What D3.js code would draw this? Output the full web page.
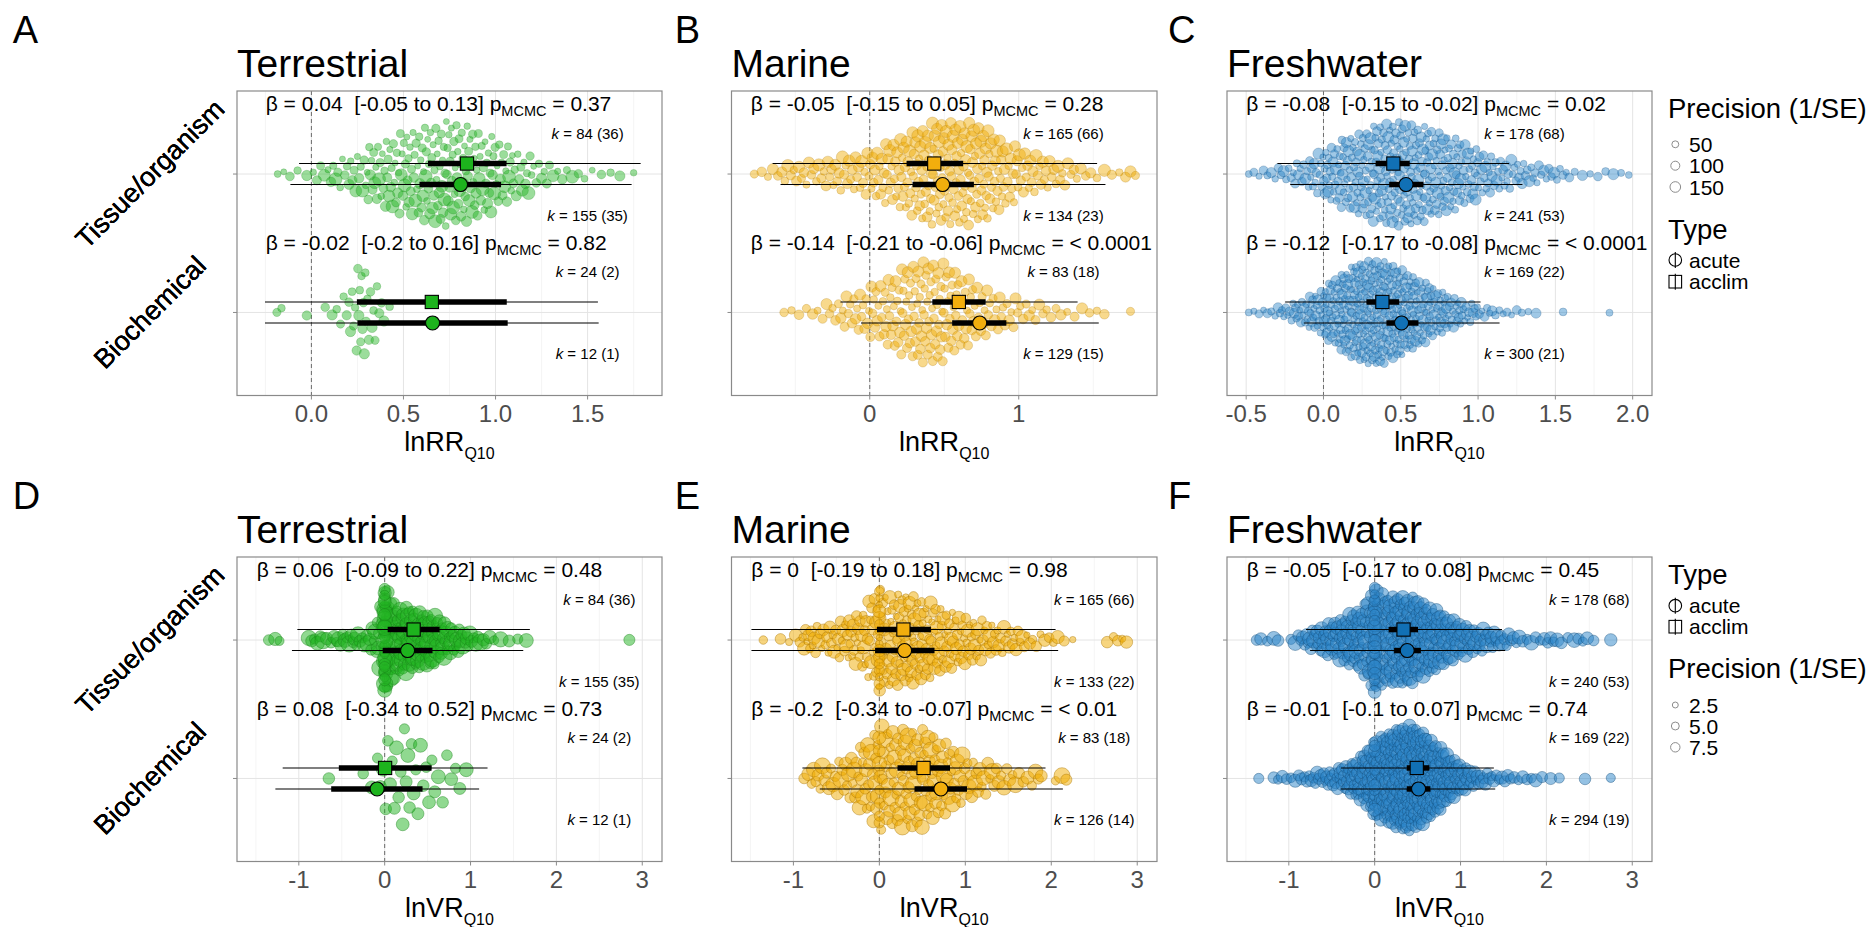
<!DOCTYPE html>
<html>
<head>
<meta charset="utf-8">
<script src="https://cdn.jsdelivr.net/npm/d3@7"></script>
<style>
  html, body { margin: 0; padding: 0; background: #fff; }
  svg { display: block; font-family: "Liberation Sans", Arial, Helvetica, sans-serif; }
</style>
</head>
<body>
<svg id="fig" width="1875" height="927"></svg>
<script>
// ---------------------------------------------------------------------------
// Data
// ---------------------------------------------------------------------------
const realms = ["Terrestrial", "Marine", "Freshwater"];
const categories = ["Tissue/organism", "Biochemical"];
const types = ["acclim", "acute"];
const panelLetters = ["A", "B", "C", "D", "E", "F"];
const metricNames = ["lnRR", "lnVR"];

// x-axis limits, ticks and tick labels per panel (A..F)
const xDomains = [[-0.404, 1.904], [-0.928, 1.928], [-0.624, 2.125], [-1.72, 3.23], [-1.72, 3.23], [-1.72, 3.23]];
const xTicks = [[0, 0.5, 1, 1.5], [0, 1], [-0.5, 0, 0.5, 1, 1.5, 2], [-1, 0, 1, 2, 3], [-1, 0, 1, 2, 3], [-1, 0, 1, 2, 3]];
const xTickLabels = [["0.0", "0.5", "1.0", "1.5"], ["0", "1"], ["-0.5", "0.0", "0.5", "1.0", "1.5", "2.0"],
  ["-1", "0", "1", "2", "3"], ["-1", "0", "1", "2", "3"], ["-1", "0", "1", "2", "3"]];
const xMinorTicks = [[-0.25, 0.25, 0.75, 1.25, 1.75], [-0.5, 0.5, 1.5], [-0.25, 0.25, 0.75, 1.25, 1.75],
  [-1.5, -0.5, 0.5, 1.5, 2.5], [-1.5, -0.5, 0.5, 1.5, 2.5], [-1.5, -0.5, 0.5, 1.5, 2.5]];

// Model estimates: [estimate, CI low, CI high, PI low, PI high]; [tissue/organism, biochemical]
const acclimEst = [
  [[0.845, 0.633, 1.06, -0.067, 1.788], [0.654, 0.247, 1.061, -0.252, 1.556]],
  [[0.433, 0.247, 0.627, -0.652, 1.526], [0.598, 0.42, 0.778, -0.197, 1.395]],
  [[0.452, 0.337, 0.558, -0.298, 1.201], [0.381, 0.278, 0.49, -0.248, 1.016]],
  [[0.337, 0.035, 0.64, -1.017, 1.691], [0.005, -0.534, 0.546, -1.188, 1.198]],
  [[0.28, -0.028, 0.60, -1.488, 2.05], [0.514, 0.211, 0.822, -0.895, 1.933]],
  [[0.336, 0.162, 0.505, -0.80, 1.483], [0.49, 0.373, 0.637, -0.393, 1.388]]
];
const acuteEst = [
  [[0.81, 0.587, 1.03, -0.114, 1.739], [0.658, 0.25, 1.066, -0.252, 1.56]],
  [[0.489, 0.287, 0.699, -0.599, 1.582], [0.738, 0.553, 0.917, -0.059, 1.537]],
  [[0.534, 0.425, 0.647, -0.215, 1.287], [0.505, 0.407, 0.614, -0.127, 1.139]],
  [[0.267, -0.023, 0.557, -1.08, 1.614], [-0.088, -0.623, 0.441, -1.273, 1.10]],
  [[0.294, -0.05, 0.642, -1.488, 2.08], [0.716, 0.409, 1.02, -0.693, 2.135]],
  [[0.379, 0.226, 0.538, -0.752, 1.52], [0.511, 0.373, 0.649, -0.393, 1.404]]
];

// Type contrast (beta [low to high]) and p_MCMC per panel
const betaTissue = [[0.04, -0.05, 0.13], [-0.05, -0.15, 0.05], [-0.08, -0.15, -0.02], [0.06, -0.09, 0.22], [0, -0.19, 0.18], [-0.05, -0.17, 0.08]];
const pTissue = ["0.37", "0.28", "0.02", "0.48", "0.98", "0.45"];
const betaBiochem = [[-0.02, -0.2, 0.16], [-0.14, -0.21, -0.06], [-0.12, -0.17, -0.08], [0.08, -0.34, 0.52], [-0.2, -0.34, -0.07], [-0.01, -0.1, 0.07]];
const pBiochem = ["0.82", "< 0.0001", "< 0.0001", "0.73", "< 0.01", "0.74"];

// Effect sizes k (number of studies)
const kTissueAcclim = [[84, 36], [165, 66], [178, 68], [84, 36], [165, 66], [178, 68]];
const kTissueAcute = [[155, 35], [134, 23], [241, 53], [155, 35], [133, 22], [240, 53]];
const kBiochemAcclim = [[24, 2], [83, 18], [169, 22], [24, 2], [83, 18], [169, 22]];
const kBiochemAcute = [[12, 1], [129, 15], [300, 21], [12, 1], [126, 14], [294, 19]];

// lnRR_Q10 effect sizes, binned: first bin start, bin width, counts per bin
const rrTerrTissue = { start: -0.2, width: 0.1, counts: [3, 2, 5, 8, 11, 17, 21, 24, 27, 29, 27, 22, 17, 12, 7, 4, 3, 2, 2, 1] };
const rrTerrBiochem = { start: -0.2, width: 0.05, counts: [2, 0, 0, 1, 0, 1, 2, 3, 6, 10, 6, 4, 1] };
const rrMarTissue = { start: -0.8, width: 0.1, counts: [2, 3, 5, 6, 6, 8, 9, 10, 13, 16, 20, 24, 26, 26, 26, 25, 20, 14, 11, 9, 7, 5, 3, 2, 2, 3] };
const rrMarBiochem = { start: -0.6, width: 0.1, counts: [2, 2, 3, 5, 8, 10, 13, 17, 21, 24, 24, 20, 16, 12, 9, 7, 5, 4, 3, 2, 2, 2, 0, 1] };
const rrFreshTissue = { start: -0.5, width: 0.1, counts: [3, 4, 6, 9, 14, 22, 28, 32, 38, 40, 40, 36, 32, 28, 22, 16, 12, 10, 8, 6, 5, 2, 2, 2, 2] };
const rrFreshBiochem = { start: -0.5, width: 0.1, counts: [3, 4, 8, 14, 22, 36, 50, 60, 62, 56, 46, 36, 26, 18, 11, 6, 4, 3, 2, 0, 1, 0, 0, 1] };

// lnVR_Q10 effect sizes, binned, plus ties at exactly zero
const vrTerrTissue = { start: -1.4, width: 0.1, zeros: 28,
  counts: [1, 2, 0, 0, 0, 3, 3, 2, 4, 4, 5, 4, 6, 10, 22, 22, 22, 20, 18, 18, 14, 10, 8, 6, 4, 3, 2, 1, 1, 1, 1, 0, 0, 0, 0, 0, 0, 0, 0, 0, 0, 0, 1] };
const vrTerrBiochem = { start: -0.7, width: 0.1, zeros: 0, counts: [1, 0, 0, 0, 1, 1, 3, 4, 4, 5, 4, 3, 3, 2, 2, 2, 1] };
const vrMarTissue = { start: -1.5, width: 0.1, zeros: 15,
  counts: [0, 1, 0, 1, 1, 2, 6, 6, 5, 6, 7, 9, 10, 12, 13, 14, 16, 18, 18, 17, 15, 14, 12, 11, 10, 9, 8, 7, 6, 5, 5, 4, 3, 2, 2, 2, 1, 1, 0, 0, 0, 1, 2, 2] };
const vrMarBiochem = { start: -0.9, width: 0.1, zeros: 6,
  counts: [2, 4, 4, 4, 5, 6, 8, 10, 11, 12, 13, 14, 14, 14, 13, 12, 10, 9, 7, 6, 5, 4, 4, 3, 3, 2, 2, 3, 0, 1, 2] };
const vrFreshTissue = { start: -1.5, width: 0.1, zeros: 20,
  counts: [0, 2, 1, 2, 0, 2, 4, 6, 8, 10, 12, 15, 17, 19, 21, 23, 26, 28, 28, 27, 24, 21, 18, 15, 12, 10, 8, 7, 6, 5, 4, 3, 2, 2, 2, 3, 2, 1, 2, 2, 1, 0, 1] };
const vrFreshBiochem = { start: -1.4, width: 0.1, zeros: 6,
  counts: [1, 0, 2, 2, 2, 3, 4, 5, 6, 8, 10, 14, 18, 24, 30, 36, 40, 42, 42, 38, 32, 26, 20, 14, 10, 7, 5, 4, 3, 3, 2, 2, 2, 1, 1, 1, 0, 0, 1, 0, 0, 1] };

// Precision (1/SE) of the effect sizes, in the order they appear along x
const precRRTerrTissue = [50, 35, 95, 65, 140, 45, 105, 75, 200, 40, 120, 60, 240, 85];
const precRRTerrBiochem = [80, 65, 110, 90, 140, 70];
const precRRMarTissue = [80, 120, 60, 170, 95, 140, 70, 210, 110, 65, 130, 180];
const precRRMarBiochem = [90, 65, 120, 80, 150, 55, 105, 170];
const precRRFreshTissue = [50, 80, 40, 100, 60, 140, 45, 90, 70, 170, 55];
const precRRFreshBiochem = [55, 40, 80, 35, 100, 60, 45, 130, 70];
const precVRTerrTissue = [10, 16, 7, 22, 13, 9, 18, 11, 26, 14];
const precVRTerrBiochem = [12, 10, 15, 9, 13, 18];
const precVRMarTissue = [6, 10, 4, 14, 8, 5, 16, 9, 3, 12];
const precVRMarBiochem = [10, 16, 7, 20, 9, 13, 6, 24, 11];
const precVRFreshTissue = [10, 14, 8, 18, 12, 9, 20, 11, 7, 15];
const precVRFreshBiochem = [9, 12, 7, 14, 10, 8, 16, 11, 13];

// Legend breaks
const precisionBreaksRR = [50, 100, 150];
const precisionLabelsRR = ["50", "100", "150"];
const precisionBreaksVR = [2.5, 5, 7.5];
const precisionLabelsVR = ["2.5", "5.0", "7.5"];

const swarmHist = [
  [rrTerrTissue, rrTerrBiochem], [rrMarTissue, rrMarBiochem], [rrFreshTissue, rrFreshBiochem],
  [vrTerrTissue, vrTerrBiochem], [vrMarTissue, vrMarBiochem], [vrFreshTissue, vrFreshBiochem]
];
const swarmPrecision = [
  [precRRTerrTissue, precRRTerrBiochem], [precRRMarTissue, precRRMarBiochem], [precRRFreshTissue, precRRFreshBiochem],
  [precVRTerrTissue, precVRTerrBiochem], [precVRMarTissue, precVRMarBiochem], [precVRFreshTissue, precVRFreshBiochem]
];

// ---------------------------------------------------------------------------
// Layout and style
// ---------------------------------------------------------------------------
const W = 1875, H = 927;
const colLeft = [237, 731.5, 1227];
const colRight = [662, 1157, 1652];
const rowTop = [91, 557];
const boxH = 304.5;
const kLabelX = [1.5, 1.3, 1.3, 2.5, 2.5, 2.5];          // k labels centred at this x value
const betaLeftPad = [28.7, 19.3, 19.3, 19.7, 19.8, 19.7];
const swarmHalfWidth = 53;

const markerFill = ["#1db31d", "#f2ae0d", "#1170b5"];
const pointFill = ["#22b422", "#f0ab00", "#2a84c8"];
const pointStroke = ["#178217", "#a87400", "#134c7a"];

const sizeRR = d3.scaleSqrt().domain([0, 200]).range([0.9, 6.0]);
const sizeVR = d3.scaleSqrt().domain([0, 12]).range([0.6, 5.8]);

const svg = d3.select("#fig");
svg.append("rect").attr("width", W).attr("height", H).attr("fill", "#fff");

// ---------------------------------------------------------------------------
// Quasirandom (van der Corput) swarm layout
// ---------------------------------------------------------------------------
function vanDerCorput(n) {
  const out = [];
  for (let i = 1; i <= n; i++) {
    let v = 0, denom = 1, k = i;
    while (k > 0) { denom *= 2; v += (k % 2) / denom; k = Math.floor(k / 2); }
    out.push(v);
  }
  return out;
}
function bwNrd0(xs) {
  const s = xs.slice().sort(d3.ascending);
  const sd = d3.deviation(s);
  const iqr = d3.quantileSorted(s, 0.75) - d3.quantileSorted(s, 0.25);
  let lo = Math.min(sd, iqr / 1.34);
  if (!(lo > 0)) lo = sd || 1;
  return 0.9 * lo * Math.pow(s.length, -0.2);
}
function quasirandomOffsets(xs, adjust) {
  const bw = bwNrd0(xs) * adjust;
  const dens = t => d3.sum(xs, v => Math.exp(-0.5 * ((t - v) / bw) ** 2));
  const [mn, mx] = d3.extent(xs);
  let maxD = 0;
  for (let i = 0; i <= 512; i++) {
    const t = mn - 3 * bw + (mx - mn + 6 * bw) * i / 512;
    maxD = Math.max(maxD, dens(t));
  }
  xs.forEach(v => { maxD = Math.max(maxD, dens(v)); });
  const order = d3.range(xs.length).sort((a, b) => xs[a] - xs[b] || a - b);
  const seq = vanDerCorput(xs.length);
  const offs = new Array(xs.length);
  order.forEach((idx, r) => { offs[idx] = (seq[r] - 0.5) * 2 * dens(xs[idx]) / maxD; });
  return offs;
}
function expandHistogram(h) {
  const xs = [];
  h.counts.forEach((c, i) => {
    for (let j = 0; j < c; j++) xs.push(h.start + h.width * (i + (j + 0.5) / c));
  });
  for (let j = 0; j < (h.zeros || 0); j++) xs.push(0);
  return xs;
}

// ---------------------------------------------------------------------------
// Panels
// ---------------------------------------------------------------------------
function preserve(sel) { return sel.attr("xml:space", "preserve").style("white-space", "pre"); }

function drawPanel(p) {
  const row = Math.floor(p / 3), col = p % 3;
  const top = rowTop[row], bottom = top + boxH;
  const left = colLeft[col], right = colRight[col];
  const x = d3.scaleLinear().domain(xDomains[p]).range([left, right]);
  const y = d3.scalePoint().domain(categories).range([top, bottom]).padding(0.6);
  const dodge = d3.scalePoint().domain(types).range([-10.5, 10.5]);
  const size = row === 0 ? sizeRR : sizeVR;
  const g = svg.append("g");

  // grid
  g.selectAll(null).data(xMinorTicks[p]).join("line")
    .attr("x1", d => x(d)).attr("x2", d => x(d)).attr("y1", top).attr("y2", bottom)
    .attr("stroke", "#f1f1f1").attr("stroke-width", 0.8);
  g.selectAll(null).data(xTicks[p]).join("line")
    .attr("x1", d => x(d)).attr("x2", d => x(d)).attr("y1", top).attr("y2", bottom)
    .attr("stroke", "#e4e4e4").attr("stroke-width", 1);
  g.selectAll(null).data(categories).join("line")
    .attr("x1", left).attr("x2", right).attr("y1", d => y(d)).attr("y2", d => y(d))
    .attr("stroke", "#e4e4e4").attr("stroke-width", 1);

  // zero reference line
  g.append("line").attr("x1", x(0)).attr("x2", x(0)).attr("y1", top).attr("y2", bottom)
    .attr("stroke", "#6b6b6b").attr("stroke-width", 1).attr("stroke-dasharray", "4,3");

  // individual effect sizes
  const realm = col;
  categories.forEach((cat, ci) => {
    const xs = expandHistogram(swarmHist[p][ci]);
    const prec = swarmPrecision[p][ci];
    const offs = quasirandomOffsets(xs, 0.5);
    const pts = xs.map((v, i) => ({ v, off: offs[i], w: prec[i % prec.length] }));
    g.append("g").selectAll("circle").data(pts).join("circle")
      .attr("cx", d => x(d.v))
      .attr("cy", d => y(cat) + d.off * swarmHalfWidth)
      .attr("r", d => size(d.w))
      .attr("fill", pointFill[realm]).attr("fill-opacity", row === 0 ? 0.45 : 0.5)
      .attr("stroke", pointStroke[realm]).attr("stroke-opacity", row === 0 ? 0.35 : 0.6)
      .attr("stroke-width", 0.7);
  });

  // model estimates: prediction interval, confidence interval, mean
  const est = [];
  categories.forEach((cat, ci) => {
    est.push({ cat, type: "acclim", e: acclimEst[p][ci] });
    est.push({ cat, type: "acute", e: acuteEst[p][ci] });
  });
  const yy = d => y(d.cat) + dodge(d.type);
  g.selectAll(null).data(est).join("line")
    .attr("x1", d => x(d.e[3])).attr("x2", d => x(d.e[4])).attr("y1", yy).attr("y2", yy)
    .attr("stroke", "#000").attr("stroke-width", 1.1);
  g.selectAll(null).data(est).join("line")
    .attr("x1", d => x(d.e[1])).attr("x2", d => x(d.e[2])).attr("y1", yy).attr("y2", yy)
    .attr("stroke", "#000").attr("stroke-width", 5.5);
  g.selectAll(null).data(est.filter(d => d.type === "acclim")).join("rect")
    .attr("x", d => x(d.e[0]) - 6.6).attr("y", d => yy(d) - 6.6)
    .attr("width", 13.2).attr("height", 13.2)
    .attr("fill", markerFill[realm]).attr("stroke", "#000").attr("stroke-width", 1.1);
  g.selectAll(null).data(est.filter(d => d.type === "acute")).join("circle")
    .attr("cx", d => x(d.e[0])).attr("cy", yy).attr("r", 7)
    .attr("fill", markerFill[realm]).attr("stroke", "#000").attr("stroke-width", 1.1);

  // panel border
  g.append("rect").attr("x", left).attr("y", top).attr("width", right - left).attr("height", boxH)
    .attr("fill", "none").attr("stroke", "#8a8a8a").attr("stroke-width", 1.2);

  // x axis
  const xAxis = g.append("g").attr("transform", `translate(0,${bottom})`);
  xAxis.selectAll(null).data(xTicks[p]).join("line")
    .attr("x1", d => x(d)).attr("x2", d => x(d)).attr("y1", 0).attr("y2", 4)
    .attr("stroke", "#8a8a8a").attr("stroke-width", 1);
  xAxis.selectAll(null).data(xTicks[p]).join("text")
    .attr("x", d => x(d)).attr("y", 26).attr("text-anchor", "middle")
    .attr("font-size", 24).attr("fill", "#4d4d4d")
    .text((d, i) => xTickLabels[p][i]);
  const title = xAxis.append("text").attr("x", (left + right) / 2).attr("y", 55)
    .attr("text-anchor", "middle").attr("font-size", 27).attr("fill", "#000");
  title.append("tspan").text(metricNames[row]);
  title.append("tspan").attr("font-size", 16).attr("dy", 8).text("Q10");

  // y axis ticks and rotated category labels
  g.selectAll(null).data(categories).join("line")
    .attr("x1", left - 4).attr("x2", left).attr("y1", d => y(d)).attr("y2", d => y(d))
    .attr("stroke", "#8a8a8a").attr("stroke-width", 1);
  g.selectAll(null).data(categories).join("text")
    .attr("transform", d => `translate(150,${y(d)}) rotate(-45)`)
    .attr("text-anchor", "middle").attr("dominant-baseline", "central")
    .attr("font-size", 27).attr("fill", "#000")
    .text(d => d);

  // contrast annotations
  const betas = [betaTissue[p], betaBiochem[p]];
  const ps = [pTissue[p], pBiochem[p]];
  const betaY = [top + 19.7, top + 158.5];
  betas.forEach((b, ci) => {
    const t = preserve(g.append("text")).attr("x", left + betaLeftPad[p]).attr("y", betaY[ci])
      .attr("font-size", 21).attr("fill", "#000");
    t.append("tspan").text(`β = ${b[0]}  [${b[1]} to ${b[2]}] p`);
    t.append("tspan").attr("font-size", 14.5).attr("dy", 5).text("MCMC");
    t.append("tspan").attr("dy", -5).text(` = ${ps[ci]}`);
  });

  // sample sizes
  const kLabels = [
    { cat: categories[0], dy: -41.5, k: kTissueAcclim[p] },
    { cat: categories[0], dy: 41, k: kTissueAcute[p] },
    { cat: categories[1], dy: -41.5, k: kBiochemAcclim[p] },
    { cat: categories[1], dy: 41, k: kBiochemAcute[p] }
  ];
  kLabels.forEach(d => {
    const t = preserve(g.append("text")).attr("x", x(kLabelX[p])).attr("y", y(d.cat) + d.dy)
      .attr("text-anchor", "middle").attr("dominant-baseline", "central")
      .attr("font-size", 15).attr("fill", "#000");
    t.append("tspan").attr("font-style", "italic").text("k");
    t.append("tspan").text(` = ${d.k[0]} (${d.k[1]})`);
  });

  // realm title and panel letter
  g.append("text").attr("x", left).attr("y", top - 13.7)
    .attr("font-size", 39).attr("fill", "#000").text(realms[realm]);
  const letterX = [12.7, 674.7, 1168];
  g.append("text").attr("x", letterX[col]).attr("y", row === 0 ? 43 : 509)
    .attr("font-size", 38).attr("fill", "#000").text(panelLetters[p]);
}

d3.range(6).forEach(drawPanel);

// ---------------------------------------------------------------------------
// Legends
// ---------------------------------------------------------------------------
function precisionLegend(x0, titleY, itemYs, breaks, labels, size) {
  svg.append("text").attr("x", x0).attr("y", titleY).attr("font-size", 27.5).text("Precision (1/SE)");
  breaks.forEach((b, i) => {
    svg.append("circle").attr("cx", x0 + 7.3).attr("cy", itemYs[i]).attr("r", size(b))
      .attr("fill", "none").attr("stroke", "#8c8c8c").attr("stroke-width", 1);
    svg.append("text").attr("x", x0 + 21).attr("y", itemYs[i] + 7.5)
      .attr("font-size", 21).text(labels[i]);
  });
}
function typeLegend(x0, titleY, itemYs) {
  svg.append("text").attr("x", x0).attr("y", titleY).attr("font-size", 27.5).text("Type");
  const keyTypes = ["acute", "acclim"];
  keyTypes.forEach((t, i) => {
    const cx = x0 + 7.3, cy = itemYs[i];
    if (t === "acute") {
      svg.append("circle").attr("cx", cx).attr("cy", cy).attr("r", 6.3)
        .attr("fill", "none").attr("stroke", "#000").attr("stroke-width", 1.1);
    } else {
      svg.append("rect").attr("x", cx - 6.3).attr("y", cy - 6.3).attr("width", 12.6).attr("height", 12.6)
        .attr("fill", "none").attr("stroke", "#000").attr("stroke-width", 1.1);
    }
    svg.append("line").attr("x1", cx).attr("x2", cx).attr("y1", cy - 8).attr("y2", cy + 8)
      .attr("stroke", "#000").attr("stroke-width", 1.1);
    svg.append("text").attr("x", x0 + 21).attr("y", cy + 7.5)
      .attr("font-size", 21).text(t);
  });
}
precisionLegend(1668, 118, [144.3, 165.7, 187], precisionBreaksRR, precisionLabelsRR, sizeRR);
typeLegend(1668, 239, [260, 281.7]);
typeLegend(1668, 584, [605.7, 626.7]);
precisionLegend(1668, 678.3, [705, 726, 747.3], precisionBreaksVR, precisionLabelsVR, sizeVR);
</script>
</body>
</html>
